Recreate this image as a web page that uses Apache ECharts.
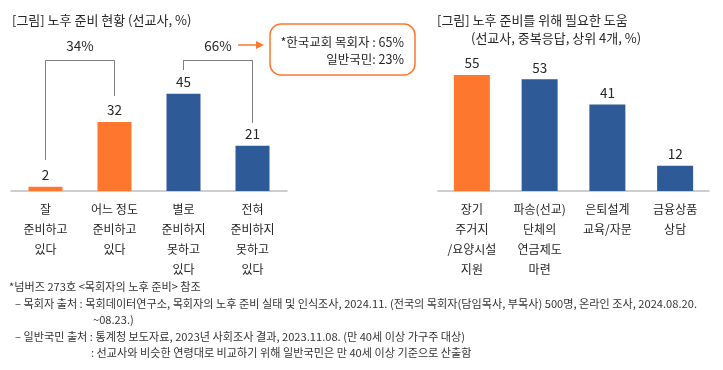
<!DOCTYPE html>
<html><head><meta charset="utf-8">
<script src="https://cdn.jsdelivr.net/npm/echarts@6/dist/echarts.min.js"></script>
<style>html,body{margin:0;padding:0;background:#fff}#c{width:723px;height:370px}</style>
</head><body><div id="c"></div>
<script>
// ---- data ----
const leftCategories = ['잘\n준비하고\n있다', '어느 정도\n준비하고\n있다', '별로\n준비하지\n못하고\n있다', '전혀\n준비하지\n못하고\n있다'];
const leftValues = [2, 32, 45, 21];
const leftGroupLabels = ['34%', '66%'];
const rightCategories = ['장기\n주거지\n/요양시설\n지원', '파송(선교)\n단체의\n연금제도\n마련', '은퇴설계\n교육/자문', '금융상품\n상담'];
const rightValues = [55, 53, 41, 12];
const boxLines = ['*한국교회 목회자 : 65%', '일반국민: 23%'];
const titles = ['[그림] 노후 준비 현황 (선교사, %)', '[그림] 노후 준비를 위해 필요한 도움', '(선교사, 중복응답, 상위 4개, %)'];
const notes = [
  '*넘버즈 273호 <목회자의 노후 준비> 참조',
  '– 목회자 출처 : 목회데이터연구소, 목회자의 노후 준비 실태 및 인식조사, 2024.11. (전국의 목회자(담임목사, 부목사) 500명, 온라인 조사, 2024.08.20.',
  '~08.23.)',
  '– 일반국민 출처 : 통계청 보도자료, 2023년 사회조사 결과, 2023.11.08. (만 40세 이상 가구주 대상)',
  ': 선교사와 비슷한 연령대로 비교하기 위해 일반국민은 만 40세 이상 기준으로 산출함'
];

// ---- style ----
const FONT = '"Noto Sans CJK KR", "Noto Sans", sans-serif';
const ORANGE = '#FD772F';
const BLUE = '#2E5A98';
const TXT = '#262626';

const orangeIdxLeft = [0, 1];
const orangeIdxRight = [0];

function colored(vals, orangeIdx) {
  return vals.map((v, i) => ({ value: v, itemStyle: { color: orangeIdx.includes(i) ? ORANGE : BLUE } }));
}

const cv = document.createElement('canvas').getContext('2d');
const NOTE_FS = 11;
cv.font = NOTE_FS + 'px ' + FONT;
const noteScale = 682 / cv.measureText(notes[1]).width;

const gray = '#7F7F7F';
const bracketTop = 60.6;
function seg(a, b, label) {
  const first = { coord: a };
  if (label) first.label = { show: true, formatter: label };
  return [first, { coord: b }];
}

const chart = echarts.init(document.getElementById('c'), null, { renderer: 'canvas' });

const axisCommon = {
  type: 'category',
  axisLine: { lineStyle: { color: '#BFBFBF', width: 1.5 } },
  axisTick: { show: false },
  axisLabel: { interval: 0, color: TXT, fontSize: 12, fontFamily: FONT, lineHeight: 20, margin: 8 }
};

const noteY = [287, 303.5, 320, 336.5, 353];
const noteX = [9, 15, 93, 15, 91];

const graphic = [
  { type: 'text', x: 12, y: 20, style: { text: titles[0], fontSize: 13, fontFamily: FONT, fill: TXT, verticalAlign: 'middle' } },
  { type: 'text', x: 437, y: 20, style: { text: titles[1], fontSize: 13, fontFamily: FONT, fill: TXT, verticalAlign: 'middle' } },
  { type: 'text', x: 471, y: 38, style: { text: titles[2], fontSize: 13, fontFamily: FONT, fill: TXT, verticalAlign: 'middle' } },
  { type: 'rect', shape: { x: 270, y: 24, width: 145, height: 51, r: 11 }, style: { fill: 'none', stroke: ORANGE, lineWidth: 1.5 } },
  { type: 'text', x: 404, y: 42, style: { text: boxLines[0], fontSize: 12.5, fontFamily: FONT, fill: TXT, align: 'right', verticalAlign: 'middle' } },
  { type: 'text', x: 404, y: 59, style: { text: boxLines[1], fontSize: 12.5, fontFamily: FONT, fill: TXT, align: 'right', verticalAlign: 'middle' } },
  { type: 'line', shape: { x1: 238, y1: 45, x2: 257, y2: 45 }, style: { stroke: ORANGE, lineWidth: 1.5 } },
  { type: 'polygon', shape: { points: [[256, 41], [264, 45], [256, 49]] }, style: { fill: ORANGE } }
];
notes.forEach((t, i) => {
  graphic.push({ type: 'text', x: noteX[i], y: noteY[i], scaleX: noteScale,
    style: { text: t, fontSize: NOTE_FS, fontFamily: FONT, fill: '#333', verticalAlign: 'middle' } });
});

const labelStyle = { show: true, position: 'top', distance: 5, color: TXT, fontSize: 13.5, fontFamily: FONT };

chart.setOption({
  animation: false,
  textStyle: { fontFamily: FONT },
  grid: [
    { left: 11, right: 436, bottom: 179, top: 191 - 151.2 },
    { left: 438, right: 14, bottom: 179, top: 191 - 126.6 }
  ],
  xAxis: [
    Object.assign({ gridIndex: 0, data: leftCategories }, axisCommon),
    Object.assign({ gridIndex: 1, data: rightCategories }, axisCommon)
  ],
  yAxis: [
    { gridIndex: 0, type: 'value', min: 0, max: 70, show: false, splitLine: { show: false } },
    { gridIndex: 1, type: 'value', min: 0, max: 60, show: false, splitLine: { show: false } }
  ],
  series: [
    {
      type: 'bar', xAxisIndex: 0, yAxisIndex: 0, barWidth: 34,
      data: colored(leftValues, orangeIdxLeft), label: labelStyle,
      markLine: {
        silent: true, symbol: ['none', 'none'], animation: false,
        lineStyle: { color: gray, width: 1, type: 'solid' },
        label: { show: false, position: 'middle', distance: 7, color: TXT, fontSize: 13.5, fontFamily: FONT },
        emphasis: { disabled: true },
        data: [
          seg([0, 14.4], [0, bracketTop]),
          seg([0, bracketTop], [1, bracketTop], leftGroupLabels[0]),
          seg([1, bracketTop], [1, 44]),
          seg([2, 56], [2, bracketTop]),
          seg([2, bracketTop], [3, bracketTop], leftGroupLabels[1]),
          seg([3, bracketTop], [3, 31.5])
        ]
      }
    },
    {
      type: 'bar', xAxisIndex: 1, yAxisIndex: 1, barWidth: 36,
      data: colored(rightValues, orangeIdxRight), label: labelStyle
    }
  ],
  graphic: graphic
});
</script></body></html>
